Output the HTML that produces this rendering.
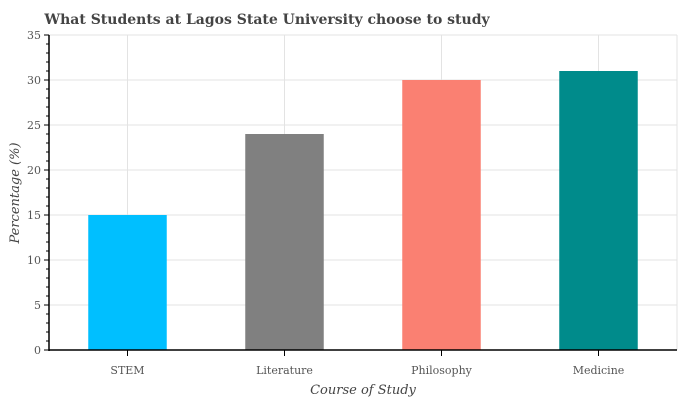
<!DOCTYPE html>
<html><head><meta charset="utf-8"><style>
html,body{margin:0;padding:0;background:#fff;}
svg text{font-family:"DejaVu Serif","Liberation Serif",serif;}
</style></head><body>
<svg id="chart" width="680" height="400" xmlns="http://www.w3.org/2000/svg">
<text x="267" y="24" text-anchor="middle" font-size="14" font-weight="bold" fill="#444">What Students at Lagos State University choose to study</text>
<g id="grid"></g><g id="bars"></g><g id="axes"></g>
<text x="363" y="394" text-anchor="middle" font-size="13" font-style="italic" fill="#444">Course of Study</text>
<text transform="translate(19,193) rotate(-90)" text-anchor="middle" font-size="13" font-style="italic" fill="#444">Percentage (%)</text>
</svg>
<script>
const categories=["STEM","Literature","Philosophy","Medicine"];
const values=[15,24,30,31];
const colors=["#00bfff","#808080","#fa8072","#008b8b"];
const yTicks=[0,5,10,15,20,25,30,35];
const L=49,R=677,T=35,B=350,yMax=35;
const NS="http://www.w3.org/2000/svg";
const step=(R-L)/categories.length;
function xs(i){return L+step*(i+0.5);}
function ys(v){return B-(v/yMax)*(B-T);}
function mk(tag,attrs,parent){const e=document.createElementNS(NS,tag);for(const k in attrs)e.setAttribute(k,attrs[k]);document.getElementById(parent).appendChild(e);return e;}
yTicks.forEach(t=>{const g=mk('line',{x1:L,x2:R,y1:ys(t),y2:ys(t),stroke:'#e3e3e3','stroke-width':1},'grid');


const tx=mk('text',{x:L-8,y:ys(t)+4,'text-anchor':'end','font-size':11,fill:'#555'},'axes');tx.textContent=t;


mk('line',{x1:L-5,x2:L,y1:ys(t),y2:ys(t),stroke:'#000'},'axes');});
for(let v=0;v<=yMax;v++){mk('line',{x1:L-3,x2:L,y1:ys(v),y2:ys(v),stroke:'#000'},'axes');}
mk('line',{x1:R,x2:R,y1:T,y2:B,stroke:'#e3e3e3'},'grid');
categories.forEach((c,i)=>{const g=mk('line',{x1:xs(i),x2:xs(i),y1:T,y2:B,stroke:'#e3e3e3'},'grid');


const w=step*0.5;const b=mk('rect',{x:xs(i)-w/2,y:ys(values[i]),width:w,height:B-ys(values[i]),fill:colors[i]},'bars');


mk('line',{x1:xs(i),x2:xs(i),y1:B,y2:B+6,stroke:'#000'},'axes');
const tx=mk('text',{x:xs(i),y:B+24,'text-anchor':'middle','font-size':11,fill:'#555'},'axes');tx.textContent=c;

});
mk('line',{x1:L,x2:L,y1:T,y2:B+1,stroke:'#000','stroke-width':1.5},'axes');
mk('line',{x1:L,x2:R,y1:B,y2:B,stroke:'#000','stroke-width':1.5},'axes');
</script>
</body></html>
